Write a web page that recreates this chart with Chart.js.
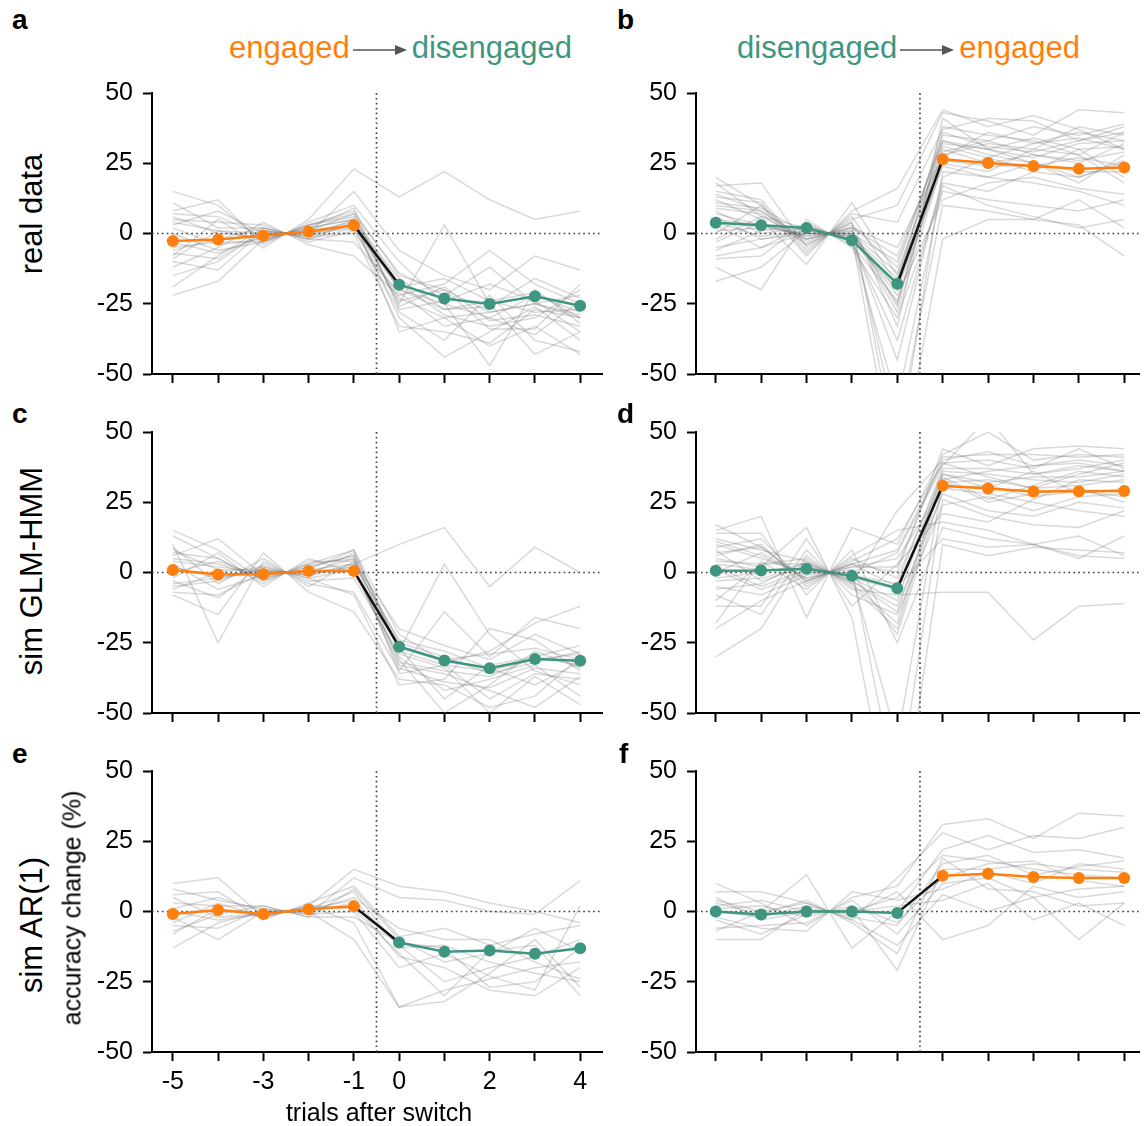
<!DOCTYPE html>
<html><head><meta charset="utf-8">
<script src="https://cdn.jsdelivr.net/npm/chart.js@4/dist/chart.umd.min.js"></script>
<style>
html,body{margin:0;padding:0;width:1145px;height:1126px;overflow:hidden;background:#fff;
  font-family:'Liberation Sans',Arial,Helvetica,sans-serif;}
canvas{position:absolute;}
.t{position:absolute;white-space:nowrap;color:#000;line-height:1;}
.letter{font-weight:bold;font-size:28px;}
.hdr{font-size:31px;display:flex;align-items:center;}
.rot{transform:translate(-50%,-50%) rotate(-90deg);}
</style></head><body>

<script>
// ---------- DATA ----------
const trials = [-5,-4,-3,-2,-1,0,1,2,3,4];
const preTrials = [-5,-4,-3,-2,-1];
const postTrials = [0,1,2,3,4];
const xTickLabels = [-5,-3,-1,0,2,4];
const yTickValues = [50,25,0,-25,-50];
const switchPoint = -0.5;
const baseline = 0;

// mean curves (pre-switch, post-switch)
const meanA_pre  = [-2.7,-2.1,-0.7,0.6,2.9];
const meanA_post = [-18.2,-23.1,-25.1,-22.3,-25.7];
const meanB_pre  = [3.8,2.9,2.0,-2.4,-17.9];
const meanB_post = [26.4,25.1,24.0,23.0,23.5];
const meanC_pre  = [0.9,-0.7,-0.5,0.5,0.5];
const meanC_post = [-26.4,-31.3,-34.1,-30.8,-31.4];
const meanD_pre  = [0.6,0.7,1.3,-1.2,-5.6];
const meanD_post = [30.9,29.9,28.8,28.9,29.0];
const meanE_pre  = [-0.9,0.5,-0.9,0.8,1.9];
const meanE_post = [-11.0,-14.3,-13.9,-15.0,-13.1];
const meanF_pre  = [0,-1.1,0,0,-0.5];
const meanF_post = [12.7,13.4,12.3,11.9,11.9];

// individual curves
const indivA = [
 [15,10,-3,3,8,-15,-20,-28,-25,-30],
 [8,12,-4,4,10,-10,-25,-30,-22,-28],
 [-22,-17,-2,2,5,-35,-30,-40,-33,-43],
 [-19,-8,2,-2,4,-30,-44,-35,-26,-38],
 [-12,-5,4,-4,-8,-22,-18,-6,-18,-25],
 [6,0,-1,1,3,-20,-25,-47,-20,-32],
 [-10,-13,1,-1,5,-25,3,-25,-43,-35],
 [3,8,0,0,15,-6,-15,-20,-8,-13],
 [-5,-3,-3,3,6,-18,-29,-33,-30,-20],
 [-8,5,-5,5,23,13,22,12,5,8],
 [11,2,2,-2,2,-28,-38,-22,-38,-42],
 [-15,-10,1,-1,0,-33,-35,-39,-27,-30],
 [0,-6,-3,3,7,-14,-22,-12,-25,-29],
 [5,4,3,-3,1,-24,-20,-34,-34,-18],
 [-3,-7,-1,1,4,-16,-27,-26,-16,-23],
 [-6,-2,2,-2,-3,-21,-33,-30,-36,-24],
 [2,-4,-2,2,9,-27,-24,-18,-24,-35],
 [-9,1,0,0,2,-19,-16,-24,-28,-27],
 [4,1,-2,2,5,-20,-27,-24,-21,-30],
 [-7,-9,1,-1,3,-23,-30,-28,-25,-22],
 [7,6,-1,1,7,-26,-19,-31,-29,-33]
];
const indivB = [
 [20,10,-8,8,16,44,38,42,37,30],
 [17,18,-5,5,10,43,40,35,44,43],
 [14,8,-3,3,-12,35,33,38,35,39],
 [12,5,-11,11,-15,32,30,27,32,33],
 [8,0,2,-2,-20,30,25,28,25,32],
 [5,3,-1,1,-25,28,32,30,38,35],
 [3,-5,0,0,-28,25,22,30,28,36],
 [0,10,-4,4,-80,22,20,25,18,28],
 [-2,6,2,-2,-45,20,27,22,30,20],
 [-5,-2,1,-1,-90,-2,5,5,12,2],
 [-8,-5,3,-3,-38,18,15,22,20,25],
 [-12,-20,5,-5,-30,15,12,10,8,12],
 [-17,-12,1,-1,-22,12,18,20,16,14],
 [10,8,-2,2,-70,10,8,5,3,-8],
 [15,12,-6,6,-18,38,35,33,28,18],
 [6,-2,0,0,-10,33,28,25,22,22],
 [-3,4,-2,2,-5,27,36,32,34,30],
 [1,2,0,0,-20,24,20,18,15,10],
 [9,7,-4,4,-33,41,30,25,20,26],
 [-6,1,3,-3,-60,17,10,6,2,5],
 [13,11,-7,7,4,37,41,40,33,36],
 [18,6,-2,2,-8,33,30,34,30,31],
 [11,9,0,0,-14,31,27,32,36,33],
 [4,-1,1,-1,-16,29,33,28,26,29],
 [-9,-8,4,-4,-24,26,24,24,27,24],
 [7,3,-1,1,-26,36,31,29,33,38]
];
const indivC = [
 [2,-2,1,-1,3,10,16,-5,9,0],
 [15,8,-3,3,5,-28,3,-22,-35,-40],
 [10,-25,4,-4,-7,-35,-14,-30,-16,-20],
 [6,12,-1,1,8,-22,-32,-28,-18,-12],
 [-8,-15,7,-7,-14,-38,-40,-48,-44,-30],
 [0,4,-2,2,6,-25,-30,-36,-32,-28],
 [-5,-3,2,-2,1,-31,-50,-40,-28,-34],
 [4,2,0,0,2,-33,-36,-42,-48,-37],
 [13,5,-4,4,4,-20,-26,-31,-22,-29],
 [-3,-9,3,-3,-2,-29,-34,-50,-37,-47],
 [8,1,1,-1,7,-27,-45,-33,-30,-26],
 [-6,0,2,-2,-8,-40,-38,-20,-24,-35],
 [3,-6,-1,1,3,-24,-28,-34,-40,-32],
 [-2,7,-5,5,0,-30,-42,-38,-33,-44],
 [9,-4,5,-5,4,-26,-31,-29,-27,-31],
 [-7,-8,0,0,5,-36,-33,-45,-36,-38],
 [5,3,-2,2,6,-32,-35,-37,-30,-33],
 [-4,-2,1,-1,2,-34,-39,-41,-34,-36],
 [7,5,-3,3,8,-28,-33,-35,-31,-29]
];
const indivD = [
 [17,9,-3,3,0,44,38,44,45,44],
 [15,20,-16,16,10,42,50,40,42,41],
 [12,8,4,-4,22,40,43,38,40,38],
 [10,5,0,0,7,38,55,35,38,36],
 [8,-3,2,-2,-10,36,35,33,32,35],
 [6,10,-5,5,-2,35,30,36,28,30],
 [4,3,5,-5,-20,33,25,28,30,25],
 [2,-5,1,-1,-60,32,33,30,35,39],
 [0,7,-2,2,5,30,28,25,22,20],
 [-2,0,3,-3,-12,28,22,20,25,23],
 [-5,-8,-1,1,-80,26,20,17,16,22],
 [-8,-15,8,-8,-15,24,27,22,27,28],
 [-12,-12,12,-12,3,21,18,26,33,32],
 [-18,4,-6,6,15,18,15,10,13,6],
 [-20,-10,-3,3,-5,12,9,10,5,13],
 [-30,-20,6,-6,-8,-7,-7,-24,-12,-11],
 [14,14,-8,8,-25,16,12,10,6,5],
 [5,2,16,-16,-100,10,6,9,8,7],
 [9,12,-4,4,12,39,40,37,44,37],
 [-3,-2,2,-2,-6,34,26,31,36,34],
 [11,6,-2,2,2,41,42,42,41,42],
 [3,1,1,-1,-4,37,37,35,37,40],
 [-6,-4,4,-4,-18,35,32,34,34,36],
 [7,9,-3,3,8,39,34,30,31,33],
 [1,-6,0,0,-22,30,31,27,29,27],
 [-10,3,3,-3,-14,33,36,38,39,36]
];
const indivE = [
 [10,12,-2,2,15,9,7,3,0,-4],
 [8,4,1,-1,12,5,4,0,-1,11],
 [6,7,-3,3,9,-9,-6,-12,-8,-5],
 [3,2,2,-2,8,-10,-18,-15,-6,-14],
 [0,-3,-1,1,4,-12,-25,-20,-16,-10],
 [-2,-10,0,0,3,-16,-20,-28,-30,-20],
 [-5,-6,1,-1,0,-20,-15,-23,-28,2],
 [-8,1,-2,2,-4,-34,-32,-22,-10,-27],
 [-13,-4,0,0,-10,-34,-28,-24,-20,-18],
 [5,-2,-1,1,7,-13,-12,-18,-22,-25],
 [-4,3,-2,2,1,-15,-30,-14,-12,-30],
 [1,5,0,0,5,-6,-10,-10,-18,-24],
 [-7,-1,2,-2,-2,-11,-13,-27,-25,-13]
];
const indivF = [
 [10,3,-5,5,9,31,33,26,35,34],
 [7,7,3,-3,12,28,22,27,26,30],
 [4,0,13,-13,0,22,27,21,22,19],
 [2,4,0,0,5,20,18,15,13,12],
 [0,-2,2,-2,-5,17,20,13,16,18],
 [-3,-8,-1,1,-21,15,15,17,15,14],
 [-6,-5,-4,4,-8,10,12,5,8,9],
 [-10,-10,1,-1,7,-10,-5,9,5,7],
 [-7,0,3,-3,-12,6,0,5,-10,3],
 [5,-3,0,0,2,4,10,-3,3,-5],
 [1,2,-2,2,-4,12,17,18,11,9],
 [-2,-6,-7,7,4,8,14,10,17,15],
 [3,-1,4,-4,-15,19,8,7,2,3]
];

// ---------- STYLE / LAYOUT ----------
const FONT = "'Liberation Sans', Arial, Helvetica, sans-serif";
const ORANGE = '#ff7f0e';
const TEAL = '#3f9680';
const GRAY = 'rgba(120,120,120,0.28)';
const DOT = '#444';

const YW = 80, PADT = 26, XH = 60, PLOT_H = 281;
const cols = [
  {axisX:152, right:606, xmin:-5.46, xmax:4.482},
  {axisX:696, right:1145, xmin:-5.435, xmax:4.326}
];
const rowTops = [93, 432, 771];

const panels = [
  {row:0,col:0, indiv:indivA, pre:meanA_pre, post:meanA_post, preColor:ORANGE, postColor:TEAL, labels:false},
  {row:0,col:1, indiv:indivB, pre:meanB_pre, post:meanB_post, preColor:TEAL, postColor:ORANGE, labels:false},
  {row:1,col:0, indiv:indivC, pre:meanC_pre, post:meanC_post, preColor:ORANGE, postColor:TEAL, labels:false},
  {row:1,col:1, indiv:indivD, pre:meanD_pre, post:meanD_post, preColor:TEAL, postColor:ORANGE, labels:false},
  {row:2,col:0, indiv:indivE, pre:meanE_pre, post:meanE_post, preColor:ORANGE, postColor:TEAL, labels:true},
  {row:2,col:1, indiv:indivF, pre:meanF_pre, post:meanF_post, preColor:TEAL, postColor:ORANGE, labels:false}
];

function pts(xs, ys){ return xs.map((x,i)=>({x:x, y:ys[i]})); }

panels.forEach(p=>{
  const c = cols[p.col];
  const plotW = c.right - c.axisX;
  const padR = (p.col===0) ? 2 : 0;
  const cv = document.createElement('canvas');
  const W = YW + plotW + padR, H = PADT + PLOT_H + XH;
  cv.width = W; cv.height = H;
  cv.style.left = (c.axisX - YW) + 'px';
  cv.style.top = (rowTops[p.row] - PADT) + 'px';
  cv.style.width = W + 'px'; cv.style.height = H + 'px';
  document.body.appendChild(cv);

  const ds = [];
  p.indiv.forEach(line=>{
    ds.push({data:pts(trials,line), borderColor:GRAY, borderWidth:1.5, pointRadius:0, order:10, tension:0});
  });
  ds.push({data:[{x:switchPoint,y:-50},{x:switchPoint,y:50}], borderColor:DOT, borderWidth:1.7, borderDash:[1.7,3.2], pointRadius:0, order:5});
  ds.push({data:[{x:c.xmin,y:baseline},{x:c.xmax,y:baseline}], borderColor:DOT, borderWidth:1.7, borderDash:[1.7,3.2], pointRadius:0, order:5});
  ds.push({data:[{x:preTrials[preTrials.length-1],y:p.pre[p.pre.length-1]},{x:postTrials[0],y:p.post[0]}],
           borderColor:'#111', borderWidth:2.5, pointRadius:0, order:3});
  ds.push({data:pts(preTrials,p.pre), borderColor:p.preColor, backgroundColor:p.preColor, borderWidth:2.5,
           pointRadius:6, pointBorderWidth:0, pointBackgroundColor:p.preColor, order:1});
  ds.push({data:pts(postTrials,p.post), borderColor:p.postColor, backgroundColor:p.postColor, borderWidth:2.5,
           pointRadius:6, pointBorderWidth:0, pointBackgroundColor:p.postColor, order:1});

  const gridOpts = {drawOnChartArea:false, drawTicks:true, tickLength:9, tickWidth:2, tickColor:'#000'};
  const borderOpts = {display:true, color:'#000', width:2};
  new Chart(cv.getContext('2d'), {
    type:'line',
    data:{datasets:ds},
    options:{
      responsive:false, animation:false, events:[], devicePixelRatio:1,
      layout:{padding:{top:PADT, right:padR, left:0, bottom:0}},
      plugins:{legend:{display:false}, tooltip:{enabled:false}},
      scales:{
        x:{type:'linear', min:c.xmin, max:c.xmax,
           afterBuildTicks:s=>{ s.ticks = trials.map(v=>({value:v})); },
           afterFit:s=>{ s.height = XH; },
           ticks:{autoSkip:false, maxRotation:0, padding:6, color:'#000', font:{family:FONT,size:25},
                  callback:v=> (p.labels && xTickLabels.includes(v)) ? String(v) : ''},
           grid:gridOpts, border:borderOpts},
        y:{type:'linear', min:-50, max:50,
           afterBuildTicks:s=>{ s.ticks = yTickValues.map(v=>({value:v})); },
           afterFit:s=>{ s.width = YW; },
           ticks:{padding:10, color:'#000', font:{family:FONT,size:25}, callback:v=>String(v)},
           grid:gridOpts, border:borderOpts}
      }
    }
  });
});
</script>

<!-- panel letters -->
<div class="t letter" style="left:12px;top:6px;">a</div>
<div class="t letter" style="left:617px;top:6px;">b</div>
<div class="t letter" style="left:12px;top:400px;">c</div>
<div class="t letter" style="left:617px;top:400px;">d</div>
<div class="t letter" style="left:12px;top:740px;">e</div>
<div class="t letter" style="left:619px;top:740px;">f</div>

<!-- headers -->
<div class="t hdr" style="left:229px;top:32px;">
  <span style="color:#ff7f0e;">engaged</span>
  <svg width="58" height="20" style="margin:4px 2px 0 2px;"><line x1="1" y1="10" x2="46" y2="10" stroke="#555" stroke-width="1.6"/><polygon points="55,10 43,5 43,15" fill="#555"/></svg>
  <span style="color:#3f9680;">disengaged</span>
</div>
<div class="t hdr" style="left:737px;top:32px;">
  <span style="color:#3f9680;">disengaged</span>
  <svg width="58" height="20" style="margin:4px 2px 0 2px;"><line x1="1" y1="10" x2="46" y2="10" stroke="#555" stroke-width="1.6"/><polygon points="55,10 43,5 43,15" fill="#555"/></svg>
  <span style="color:#ff7f0e;">engaged</span>
</div>

<!-- row labels -->
<div class="t rot" style="left:31px;top:214px;font-size:31px;">real data</div>
<div class="t rot" style="left:31px;top:571px;font-size:31px;">sim GLM-HMM</div>
<div class="t rot" style="left:31px;top:925px;font-size:31px;">sim AR(1)</div>
<div class="t rot" style="left:72px;top:908px;font-size:25px;">accuracy change (%)</div>

<!-- x axis title -->
<div class="t" style="left:379px;top:1100px;font-size:25px;transform:translateX(-50%);">trials after switch</div>
</body></html>
